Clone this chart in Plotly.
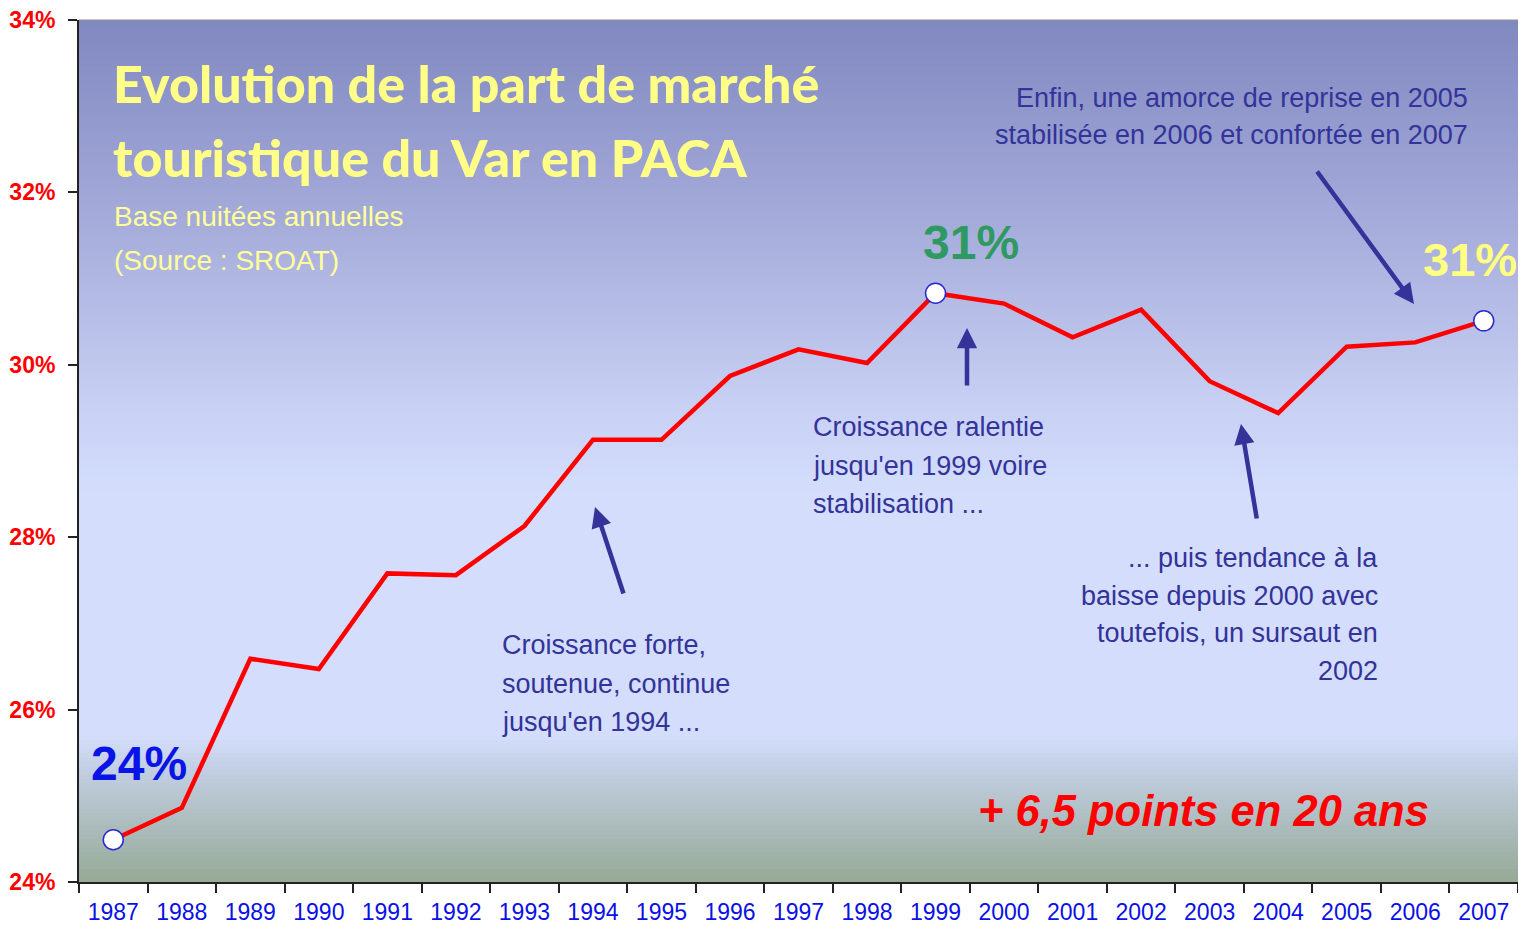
import plotly.graph_objects as go

# ---- data ----
years = [str(y) for y in range(1987, 2008)]
share = [24.49, 24.86, 26.59, 26.47, 27.58, 27.56, 28.13, 29.13, 29.13, 29.87,
         30.18, 30.02, 30.83, 30.71, 30.32, 30.64, 29.81, 29.44, 30.21, 30.26, 30.51]
highlight_idx = [0, 12, 20]
y_ticks = [24, 26, 28, 30, 32, 34]

title_lines = ["Evolution de la part de marché", "touristique du Var en PACA"]
subtitle_lines = ["Base nuitées annuelles", "(Source : SROAT)"]
note_forte = ["Croissance forte,", "soutenue, continue", "jusqu'en 1994 ..."]
note_ralentie = ["Croissance ralentie", "jusqu'en 1999 voire", "stabilisation ..."]
note_baisse = ["... puis tendance à la", "baisse depuis 2000 avec", "toutefois, un sursaut en", "2002"]
note_reprise = ["Enfin, une amorce de reprise en 2005", "stabilisée en 2006 et confortée en 2007"]

# ---- geometry (screen pixels; page body has an 8px margin) ----
OFF = 8
FIG_W, FIG_H = 1526 - 2 * OFF, 933 - 2 * OFF
L, R, T, B = 79, 1526 - OFF, 20, 882
def px(x):
    return (x - L) / (R - L)
def py(y):
    return (B - y) / (B - T)

NAVY = "#333399"
SANS = "Liberation Sans, Arial"
TITLE_FONT = "Lato, Liberation Sans"

fig = go.Figure()

fig.add_trace(go.Scatter(
    x=years, y=share, mode="lines",
    line=dict(color="#ff0000", width=4.5),
    hoverinfo="x+y", showlegend=False))

fig.add_trace(go.Scatter(
    x=[years[i] for i in highlight_idx], y=[share[i] for i in highlight_idx],
    mode="markers",
    marker=dict(size=20, color="white", line=dict(color="#2a2ad0", width=1.5)),
    hoverinfo="skip", showlegend=False, cliponaxis=False))

# ---- background gradient (bands) ----
stops = [
    (0.00, (128, 136, 192)),
    (0.20, (160, 166, 214)),
    (0.45, (200, 208, 244)),
    (0.55, (212, 222, 252)),
    (0.83, (212, 222, 252)),
    (0.87, (194, 206, 226)),
    (1.00, (150, 170, 150)),
]
def col_at(f):
    for (f0, c0), (f1, c1) in zip(stops[:-1], stops[1:]):
        if f0 <= f <= f1:
            t = 0 if f1 == f0 else (f - f0) / (f1 - f0)
            return "rgb(%d,%d,%d)" % tuple(round(a + (b - a) * t) for a, b in zip(c0, c1))
    return "rgb(%d,%d,%d)" % stops[-1][1]

shapes = []
nb = 200
for i in range(nb):
    f0 = i / nb
    f1 = (i + 1) / nb
    shapes.append(dict(type="rect", xref="paper", yref="paper", layer="below",
                       x0=0, x1=1, y0=1 - f1 - 0.001, y1=1 - f0,
                       fillcolor=col_at((f0 + f1) / 2), line=dict(width=0)))
shapes.append(dict(type="line", xref="paper", yref="paper", x0=0, x1=1, y0=1, y1=1,
                   line=dict(color="#909090", width=1)))

ann = []
def text(x, y, s, size, color, family=SANS, xanchor="left", weight="normal", italic=False):
    ann.append(dict(x=px(x), y=py(y), xref="paper", yref="paper", text=s,
                    showarrow=False, xanchor=xanchor, yanchor="middle",
                    font=dict(size=size, color=color, family=family, weight=weight,
                              style="italic" if italic else "normal")))

# titles
text(111, 83, title_lines[0], 52, "#ffff88", TITLE_FONT, weight=900)
text(111, 157, title_lines[1], 52, "#ffff88", TITLE_FONT, weight=900)
text(112, 216, subtitle_lines[0], 28, "#ffff99")
text(112, 260, subtitle_lines[1], 28, "#ffff99")

for i, s in enumerate(note_forte):
    text(500, 645 + 38.5 * i, s, 27, NAVY)
for i, s in enumerate(note_ralentie):
    text(811, 427 + 38.5 * i, s, 27, NAVY)
for i, s in enumerate(note_baisse):
    text(1380, 558 + 37.5 * i, s, 27, NAVY, xanchor="right")
for i, s in enumerate(note_reprise):
    text(1470, 98 + 36.5 * i, s, 27, NAVY, xanchor="right")

text(139, 763, "24%", 48, "#0a14e6", xanchor="center", weight="bold")
text(971, 242, "31%", 48, "#2e9960", xanchor="center", weight="bold")
text(1470, 259, "31%", 47, "#ffff80", xanchor="center", weight="bold")
text(1203, 811, "+ 6,5 points en 20 ans", 43.5, "#ff0000", xanchor="center", weight="bold", italic=True)

# arrows (head, tail) in screen pixels
arrows = [((595, 507), (624, 595)),
          ((967, 328), (967, 387)),
          ((1241, 424), (1257, 520)),
          ((1414, 304), (1316, 170))]
for (hx, hy), (tx, ty) in arrows:
    ann.append(dict(x=px(hx), y=py(hy), xref="paper", yref="paper", text="",
                    showarrow=True, ax=tx - hx, ay=ty - hy, axref="pixel", ayref="pixel",
                    arrowhead=2, arrowsize=0.9, arrowwidth=4.5, arrowcolor=NAVY,
                    standoff=0, startstandoff=0))

fig.update_layout(
    width=FIG_W, height=FIG_H,
    margin=dict(l=L - OFF, r=FIG_W - (R - OFF), t=T - OFF, b=FIG_H - (B - OFF), pad=0,
                autoexpand=False),
    paper_bgcolor="white", plot_bgcolor="rgb(212,222,252)",
    shapes=shapes, annotations=ann,
    showlegend=False,
)
fig.update_xaxes(
    type="category", range=[-0.5, 20.5], tickson="boundaries", automargin=False,
    ticks="outside", ticklen=9, tickwidth=2, tickcolor="#222",
    showline=True, linecolor="#222", linewidth=2, showgrid=False, zeroline=False,
    tickfont=dict(family=SANS, size=23, color="#0a10e6"), ticklabelstandoff=8,
)
fig.update_yaxes(
    range=[24, 34], tickvals=y_ticks, ticktext=[f"{v}%" for v in y_ticks], automargin=False,
    ticks="outside", ticklen=9, tickwidth=2, tickcolor="#222",
    showline=True, linecolor="#222", linewidth=2, showgrid=False, zeroline=False,
    tickfont=dict(family=SANS, size=23, color="#ff0000", weight="bold"), ticklabelstandoff=8,
    ticklabeloverflow="allow",
)

fig.write_html("out.html")
